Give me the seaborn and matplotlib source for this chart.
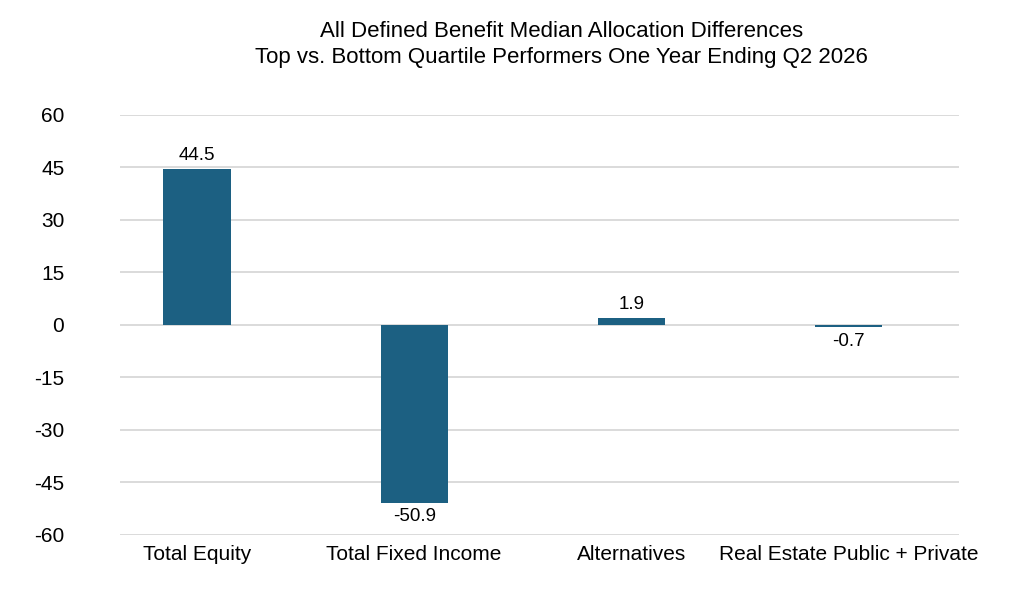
import matplotlib
matplotlib.use("Agg")
import matplotlib.pyplot as plt
import seaborn as sns
import pandas as pd

categories = ["Total Equity", "Total Fixed Income", "Alternatives", "Real Estate Public + Private"]
values = [44.5, -50.9, 1.9, -0.7]
yticks = [60, 45, 30, 15, 0, -15, -30, -45, -60]

sns.set_style("white")
plt.rcParams['font.family'] = ['Liberation Sans', 'DejaVu Sans']
plt.rcParams['text.color'] = 'black'
plt.rcParams['xtick.color'] = 'black'
plt.rcParams['ytick.color'] = 'black'

df = pd.DataFrame({"cat": categories, "val": values})
fig = plt.figure(figsize=(10.24, 6.01), dpi=100)
ax = fig.add_axes([0.117, 0.11, 0.82, 0.699])
sns.barplot(data=df, x="cat", y="val", color="#1c6082", width=0.31, ax=ax,
            saturation=1, edgecolor="none")
ax.set_ylim(-60, 60)
ax.set_xlim(-0.355, 3.51)
ax.set_yticks(yticks)
ax.set_yticklabels([str(t) for t in yticks])
ax.yaxis.grid(True, color="#d4d4d4", linewidth=1.2)
ax.set_axisbelow(True)
for s in ax.spines.values():
    s.set_visible(False)
ax.tick_params(axis="y", labelsize=15, pad=40, length=0)
ax.tick_params(axis="x", labelsize=15, pad=7, length=0)
ax.set_xlabel("")
ax.set_ylabel("")
for i, v in enumerate(values):
    off = 1.5 if v >= 0 else -1.5
    ax.text(i, v + off, f"{v:.1f}", ha="center", va="bottom" if v >= 0 else "top", fontsize=13.5)
fig.suptitle("All Defined Benefit Median Allocation Differences\nTop vs. Bottom Quartile Performers One Year Ending Q2 2026",
             fontsize=16, y=0.965, x=0.548, linespacing=1.3)
fig.savefig("out.png", dpi=100)
